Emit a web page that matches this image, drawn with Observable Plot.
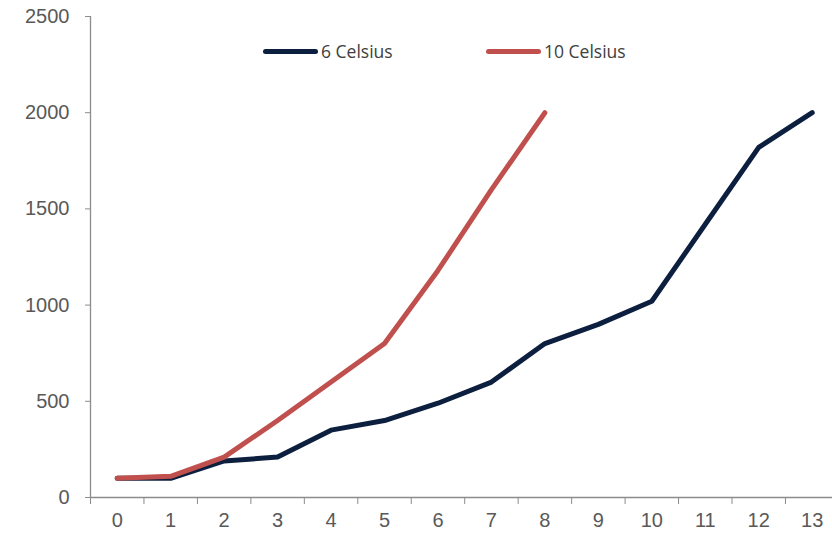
<!DOCTYPE html>
<html>
<head>
<meta charset="utf-8">
<script src="https://cdn.jsdelivr.net/npm/d3@7"></script>
<script src="https://cdn.jsdelivr.net/npm/@observablehq/plot@0.6"></script>
<style>
  html, body { margin: 0; padding: 0; background: #fff; }
  #wrap { position: relative; width: 832px; height: 533px; }
  .leg { position: absolute; top: 38px; display: flex; align-items: center; font-family: "Open Sans", sans-serif; font-size: 17.5px; color: #404040; line-height: 26px; }
  .sw { width: 55px; height: 5px; border-radius: 3px; margin-right: 3px; }
</style>
</head>
<body>
<div id="wrap"></div>
<script>
const days = [0, 1, 2, 3, 4, 5, 6, 7, 8, 9, 10, 11, 12, 13];
const series6 = [100, 100, 190, 210, 350, 400, 490, 600, 800, 900, 1020, 1420, 1820, 2000];
const series10 = [100, 110, 210, 400, 600, 800, 1180, 1600, 2000];
const seriesNames = ["6 Celsius", "10 Celsius"];
const seriesColors = ["#0c1f3f", "#c0504d"];
const yTicks = [0, 500, 1000, 1500, 2000, 2500];

const rows = [
  ...series6.map((v, i) => ({day: days[i], value: v, series: seriesNames[0]})),
  ...series10.map((v, i) => ({day: days[i], value: v, series: seriesNames[1]}))
];

const axisColor = "#8c8c8c";
const textColor = "#595959";
const font = "Liberation Sans, Arial, sans-serif";

const chart = Plot.plot({
  width: 832,
  height: 533,
  marginLeft: 90,
  marginRight: 0,
  marginTop: 16,
  marginBottom: 36,
  style: {fontFamily: font, background: "#fff", overflow: "visible"},
  x: {type: "linear", domain: [-0.5, 13.38]},
  y: {domain: [0, 2500]},
  marks: [
    Plot.ruleX([-0.5], {y1: 0, y2: 2500, stroke: axisColor, strokeWidth: 1.3}),
    Plot.ruleY([0], {stroke: axisColor, strokeWidth: 1.3}),
    Plot.axisY({ticks: yTicks, tickSize: 5, tickPadding: 16, fontSize: 20, color: textColor, stroke: axisColor, label: null, tickFormat: d => String(d)}),
    Plot.axisX({ticks: d3.range(-0.5, 13.5, 1), tickSize: 7, tickFormat: () => "", stroke: axisColor, label: null}),
    Plot.axisX({ticks: days, tickSize: 0, tickPadding: 15, fontSize: 20, color: textColor, label: null, tickFormat: d => String(d)}),
    Plot.line(rows, {x: "day", y: "value", z: "series", stroke: d => seriesColors[seriesNames.indexOf(d.series)], strokeWidth: 5, strokeLinecap: "round", strokeLinejoin: "round"})
  ]
});

const wrap = document.getElementById("wrap");
wrap.appendChild(chart);

const legendLeft = [263, 486];
seriesNames.forEach((name, i) => {
  const item = document.createElement("div");
  item.className = "leg";
  item.style.left = legendLeft[i] + "px";
  item.innerHTML = `<div class="sw" style="background:${seriesColors[i]}"></div><span>${name}</span>`;
  wrap.appendChild(item);
});
</script>
</body>
</html>
